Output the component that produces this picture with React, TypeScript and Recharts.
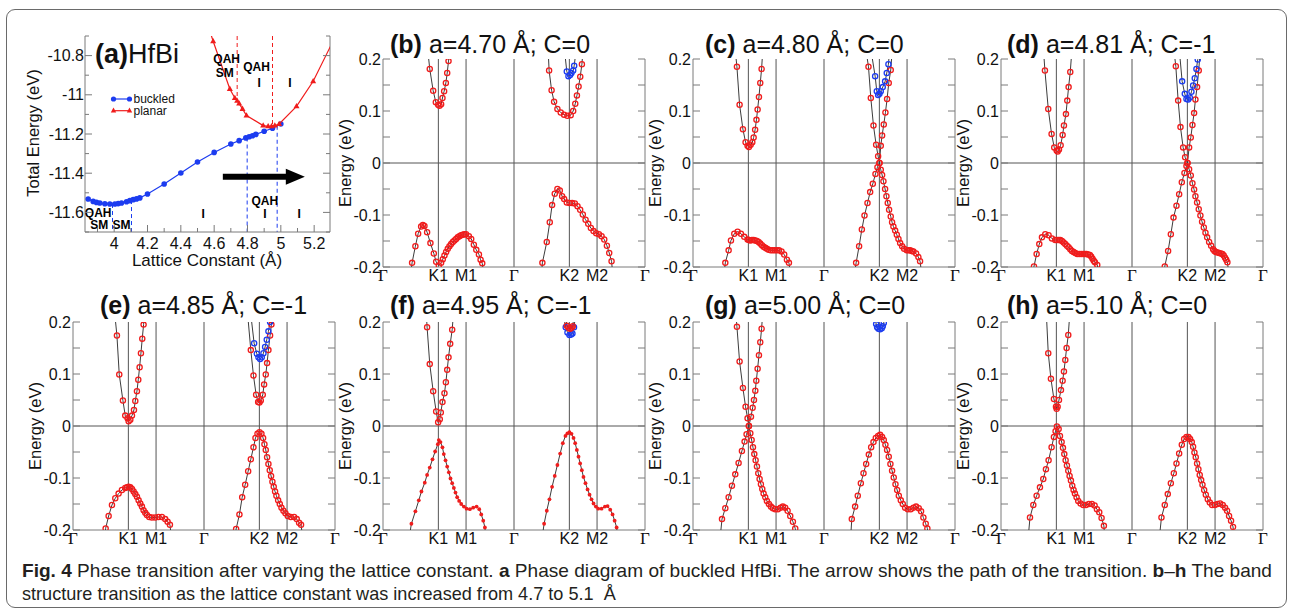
import React from "react";
import { ScatterChart, Scatter, XAxis, YAxis, ReferenceLine, ReferenceDot } from "recharts";

type Pt = [number, number];

const C = {
  frame: "#7a7a7a",
  grid: "#555",
  band: "#3c3c3c",
  red: "#f01c1c",
  blue: "#1c3cf0",
  text: "#111",
  sans: "'Liberation Sans', Arial, Helvetica, sans-serif",
  serif: "'Liberation Serif', 'DejaVu Serif', 'Times New Roman', serif",
  narrow: "'Liberation Sans Narrow', 'Liberation Sans', Arial, sans-serif",
};

// k-path Γ-K1-M1-Γ-K2-M2-Γ, path length in units of 2π/a
const K_PATH = [0, 0.6667, 1, 1.5774, 2.244, 2.5774, 3.1547];
const K_NAMES = ["Γ", "K1", "M1", "Γ", "K2", "M2", "Γ"];
const E_TICKS = [-0.2, -0.15, -0.1, -0.05, 0, 0.05, 0.1, 0.15, 0.2];
const E_LABELS = [-0.2, -0.1, 0, 0.1, 0.2];

// panel (a): phase diagram
const A_X_TICKS = [3.9, 4, 4.1, 4.2, 4.3, 4.4, 4.5, 4.6, 4.7, 4.8, 4.9, 5, 5.1, 5.2];
const A_X_LABELS = [4, 4.2, 4.4, 4.6, 4.8, 5, 5.2];
const A_Y_TICKS = [-11.7, -11.6, -11.5, -11.4, -11.3, -11.2, -11.1, -11, -10.9, -10.8, -10.7];
const A_Y_LABELS = [-11.6, -11.4, -11.2, -11, -10.8];

const A_BUCKLED: Pt[] = [
  [3.844, -11.532], [3.874, -11.544], [3.894, -11.549], [3.914, -11.552], [3.944, -11.556],
  [3.974, -11.557], [4.004, -11.557], [4.024, -11.555], [4.044, -11.552], [4.074, -11.546],
  [4.094, -11.54], [4.114, -11.535], [4.134, -11.531], [4.154, -11.526], [4.2, -11.506],
  [4.3, -11.455], [4.4, -11.399], [4.5, -11.343], [4.6, -11.294], [4.7, -11.251],
  [4.75, -11.234], [4.79, -11.22], [4.81, -11.214], [4.83, -11.209], [4.85, -11.202],
  [4.9, -11.186], [4.95, -11.171], [5.0, -11.149],
];
const A_PLANAR: Pt[] = [
  [4.565, -10.65], [4.594, -10.727], [4.694, -10.97], [4.724, -11.016], [4.738, -11.03],
  [4.75, -11.045], [4.77, -11.072], [4.794, -11.106], [4.894, -11.157], [4.924, -11.161],
  [4.944, -11.161], [4.964, -11.157], [4.99, -11.149], [5.094, -11.059], [5.194, -10.931],
  [5.34, -10.68],
];
// [a, E from, E to] dashed phase boundaries
const A_DASH_RED = [[4.738, -10.7, -11.03], [4.95, -10.7, -11.16]];
const A_DASH_BLUE = [[3.99, -11.557, -11.7], [4.104, -11.537, -11.7], [4.798, -11.218, -11.7], [4.978, -11.158, -11.7]];
const A_NOTES: [number, number, string][] = [
  [4.675, -10.818, "QAH"], [4.664, -10.887, "SM"], [4.854, -10.86, "QAH"],
  [4.87, -10.938, "I"], [5.054, -10.938, "I"],
  [3.904, -11.601, "QAH"], [3.91, -11.665, "SM"], [4.044, -11.665, "SM"],
  [4.534, -11.608, "I"], [4.904, -11.608, "I"], [5.11, -11.608, "I"], [4.904, -11.54, "QAH"],
];
const A_ARROW: Pt[] = [[4.652, -11.418], [5.144, -11.418]];

// (b) a=4.70
const B_K1C: Pt[] = [[0.53, 0.23], [0.563, 0.181], [0.604, 0.139], [0.636, 0.117], [0.664, 0.112], [0.68, 0.11], [0.7, 0.113], [0.716, 0.125], [0.736, 0.138], [0.757, 0.154], [0.773, 0.173], [0.789, 0.196], [0.81, 0.23]];
const B_K1V: Pt[] = [[0.33, -0.22], [0.35, -0.192], [0.39, -0.16], [0.423, -0.136], [0.459, -0.122], [0.48, -0.119], [0.499, -0.121], [0.531, -0.133], [0.571, -0.154], [0.612, -0.174], [0.64, -0.19], [0.672, -0.197], [0.7, -0.192], [0.72, -0.185], [0.74, -0.178], [0.76, -0.171], [0.78, -0.165], [0.8, -0.16], [0.82, -0.156], [0.84, -0.152], [0.86, -0.149], [0.88, -0.146], [0.9, -0.143], [0.92, -0.141], [0.94, -0.139], [0.96, -0.138], [0.98, -0.137], [1.0, -0.137], [1.034, -0.141], [1.062, -0.146], [1.094, -0.157], [1.123, -0.167], [1.155, -0.176], [1.175, -0.186], [1.195, -0.193], [1.22, -0.22]];
const B_K2C: Pt[] = [[1.985, 0.23], [2.0, 0.178], [2.03, 0.14], [2.06, 0.118], [2.1, 0.104], [2.14, 0.097], [2.18, 0.093], [2.22, 0.091], [2.26, 0.092], [2.29, 0.1], [2.315, 0.114], [2.335, 0.13], [2.355, 0.147], [2.375, 0.166], [2.395, 0.19], [2.415, 0.23]];
const B_K2U: Pt[] = [[2.17, 0.24], [2.213, 0.176], [2.233, 0.167], [2.253, 0.169], [2.269, 0.173], [2.29, 0.178], [2.302, 0.187], [2.32, 0.21], [2.34, 0.24]];
const B_K2V: Pt[] = [[1.9, -0.23], [1.919, -0.192], [1.972, -0.152], [2.008, -0.114], [2.036, -0.081], [2.068, -0.059], [2.1, -0.05], [2.129, -0.053], [2.157, -0.064], [2.181, -0.069], [2.213, -0.076], [2.245, -0.077], [2.278, -0.077], [2.31, -0.078], [2.342, -0.083], [2.374, -0.09], [2.406, -0.099], [2.439, -0.109], [2.471, -0.117], [2.503, -0.125], [2.535, -0.131], [2.567, -0.135], [2.6, -0.137], [2.632, -0.141], [2.664, -0.147], [2.696, -0.159], [2.724, -0.173], [2.752, -0.189], [2.77, -0.22]];

// (c) a=4.80
const C_K1C: Pt[] = [[0.5, 0.23], [0.529, 0.185], [0.561, 0.112], [0.601, 0.065], [0.633, 0.04], [0.657, 0.033], [0.673, 0.031], [0.694, 0.035], [0.714, 0.04], [0.73, 0.049], [0.748, 0.064], [0.764, 0.083], [0.778, 0.103], [0.794, 0.127], [0.81, 0.154], [0.826, 0.181], [0.845, 0.23]];
const C_K1V: Pt[] = [[0.37, -0.22], [0.389, -0.192], [0.429, -0.168], [0.457, -0.149], [0.497, -0.136], [0.537, -0.132], [0.577, -0.136], [0.617, -0.142], [0.657, -0.147], [0.673, -0.148], [0.69, -0.149], [0.71, -0.148], [0.73, -0.148], [0.75, -0.149], [0.77, -0.15], [0.79, -0.152], [0.81, -0.155], [0.83, -0.158], [0.85, -0.161], [0.87, -0.163], [0.89, -0.165], [0.91, -0.167], [0.935, -0.168], [0.96, -0.168], [0.985, -0.168], [1.01, -0.168], [1.035, -0.168], [1.066, -0.17], [1.098, -0.176], [1.131, -0.186], [1.155, -0.192], [1.18, -0.22]];
const C_K2A: Pt[] = [[2.08, 0.22], [2.113, 0.185], [2.141, 0.125], [2.173, 0.072], [2.205, 0.035], [2.229, 0.013], [2.245, 0.0], [2.261, -0.013], [2.277, -0.023], [2.293, -0.035], [2.313, -0.05], [2.329, -0.064], [2.345, -0.077], [2.361, -0.09], [2.381, -0.103], [2.397, -0.114], [2.413, -0.122], [2.434, -0.13], [2.454, -0.138], [2.474, -0.146], [2.494, -0.154], [2.518, -0.16], [2.542, -0.165], [2.574, -0.168], [2.594, -0.168], [2.614, -0.168], [2.634, -0.169], [2.654, -0.17], [2.686, -0.174], [2.714, -0.181], [2.734, -0.189], [2.76, -0.22]];
const C_K2B: Pt[] = [[1.94, -0.22], [1.964, -0.192], [2.0, -0.16], [2.033, -0.128], [2.065, -0.101], [2.101, -0.077], [2.133, -0.056], [2.165, -0.04], [2.197, -0.021], [2.221, -0.008], [2.245, 0.0], [2.261, 0.033], [2.277, 0.053], [2.297, 0.074], [2.317, 0.097], [2.337, 0.123], [2.357, 0.154], [2.381, 0.179], [2.4, 0.22]];
const C_K2U: Pt[] = [[2.12, 0.24], [2.193, 0.167], [2.213, 0.138], [2.229, 0.131], [2.245, 0.133], [2.261, 0.138], [2.285, 0.146], [2.313, 0.157], [2.333, 0.173], [2.353, 0.19], [2.37, 0.22]];

// (d) a=4.81
const D_K1C: Pt[] = [[0.51, 0.22], [0.529, 0.178], [0.569, 0.104], [0.609, 0.056], [0.641, 0.03], [0.67, 0.024], [0.682, 0.022], [0.698, 0.026], [0.718, 0.034], [0.742, 0.054], [0.758, 0.072], [0.782, 0.094], [0.798, 0.12], [0.814, 0.146], [0.834, 0.175], [0.855, 0.22]];
const D_K1V: Pt[] = [[0.38, -0.22], [0.397, -0.199], [0.429, -0.175], [0.461, -0.156], [0.493, -0.143], [0.533, -0.137], [0.573, -0.139], [0.613, -0.145], [0.653, -0.148], [0.674, -0.148], [0.694, -0.148], [0.714, -0.148], [0.734, -0.15], [0.754, -0.153], [0.774, -0.156], [0.794, -0.159], [0.814, -0.162], [0.834, -0.166], [0.854, -0.169], [0.874, -0.171], [0.894, -0.173], [0.918, -0.175], [0.942, -0.175], [0.966, -0.175], [0.99, -0.175], [1.01, -0.175], [1.03, -0.175], [1.05, -0.176], [1.07, -0.177], [1.086, -0.18], [1.102, -0.184], [1.117, -0.188], [1.131, -0.191], [1.159, -0.196], [1.18, -0.22]];
const D_K2A: Pt[] = [[2.08, 0.22], [2.105, 0.186], [2.133, 0.12], [2.161, 0.069], [2.193, 0.03], [2.217, 0.011], [2.245, 0.0], [2.265, -0.012], [2.285, -0.024], [2.305, -0.039], [2.325, -0.051], [2.341, -0.064], [2.361, -0.076], [2.381, -0.089], [2.401, -0.101], [2.421, -0.113], [2.442, -0.124], [2.462, -0.134], [2.482, -0.143], [2.506, -0.152], [2.53, -0.159], [2.554, -0.166], [2.57, -0.169], [2.586, -0.171], [2.606, -0.172], [2.626, -0.173], [2.646, -0.174], [2.666, -0.175], [2.682, -0.178], [2.698, -0.182], [2.712, -0.186], [2.726, -0.191], [2.75, -0.22]];
const D_K2B: Pt[] = [[1.95, -0.22], [1.972, -0.199], [2.012, -0.169], [2.045, -0.137], [2.077, -0.105], [2.113, -0.082], [2.145, -0.06], [2.177, -0.037], [2.209, -0.019], [2.233, -0.006], [2.245, 0.0], [2.265, 0.03], [2.285, 0.049], [2.305, 0.073], [2.325, 0.096], [2.341, 0.122], [2.361, 0.146], [2.381, 0.178], [2.4, 0.22]];
const D_K2U: Pt[] = [[2.14, 0.23], [2.181, 0.157], [2.213, 0.133], [2.233, 0.123], [2.253, 0.122], [2.273, 0.126], [2.293, 0.137], [2.313, 0.149], [2.333, 0.163], [2.353, 0.181], [2.369, 0.199], [2.38, 0.22]];

// (e) a=4.85
const E_K1C: Pt[] = [[0.5, 0.22], [0.529, 0.174], [0.557, 0.099], [0.601, 0.049], [0.629, 0.02], [0.657, 0.015], [0.67, 0.009], [0.69, 0.012], [0.71, 0.02], [0.734, 0.031], [0.75, 0.048], [0.77, 0.067], [0.786, 0.089], [0.802, 0.113], [0.818, 0.14], [0.834, 0.168], [0.85, 0.195], [0.86, 0.22]];
const E_K1V: Pt[] = [[0.38, -0.22], [0.393, -0.197], [0.429, -0.173], [0.469, -0.152], [0.509, -0.139], [0.549, -0.13], [0.589, -0.123], [0.629, -0.119], [0.65, -0.118], [0.67, -0.117], [0.69, -0.118], [0.71, -0.121], [0.73, -0.126], [0.75, -0.131], [0.77, -0.136], [0.79, -0.143], [0.81, -0.149], [0.83, -0.155], [0.85, -0.162], [0.87, -0.167], [0.89, -0.171], [0.918, -0.175], [0.95, -0.176], [0.99, -0.176], [1.03, -0.175], [1.07, -0.175], [1.11, -0.179], [1.139, -0.184], [1.167, -0.19], [1.19, -0.22]];
const E_K2C: Pt[] = [[2.1, 0.22], [2.141, 0.146], [2.173, 0.097], [2.205, 0.06], [2.229, 0.046], [2.245, 0.045], [2.261, 0.049], [2.285, 0.06], [2.301, 0.08], [2.321, 0.099], [2.337, 0.121], [2.353, 0.146], [2.373, 0.174], [2.389, 0.195], [2.4, 0.22]];
const E_K2U: Pt[] = [[2.13, 0.23], [2.181, 0.159], [2.213, 0.139], [2.233, 0.132], [2.253, 0.129], [2.273, 0.132], [2.293, 0.14], [2.313, 0.152], [2.333, 0.166], [2.353, 0.182], [2.373, 0.2], [2.38, 0.22]];
const E_K2V: Pt[] = [[1.95, -0.22], [1.964, -0.198], [2.004, -0.17], [2.037, -0.137], [2.073, -0.113], [2.109, -0.087], [2.141, -0.064], [2.173, -0.041], [2.197, -0.023], [2.221, -0.015], [2.245, -0.012], [2.269, -0.015], [2.289, -0.023], [2.305, -0.035], [2.321, -0.046], [2.337, -0.06], [2.353, -0.073], [2.369, -0.085], [2.385, -0.096], [2.401, -0.107], [2.417, -0.117], [2.433, -0.126], [2.449, -0.134], [2.47, -0.143], [2.49, -0.15], [2.51, -0.157], [2.534, -0.163], [2.558, -0.168], [2.586, -0.173], [2.622, -0.175], [2.662, -0.175], [2.694, -0.179], [2.722, -0.186], [2.746, -0.19], [2.77, -0.22]];

// (f) a=4.95
const F_K1C: Pt[] = [[0.52, 0.22], [0.531, 0.19], [0.563, 0.119], [0.604, 0.067], [0.64, 0.028], [0.664, 0.007], [0.684, 0.013], [0.696, 0.026], [0.716, 0.046], [0.74, 0.063], [0.757, 0.084], [0.773, 0.108], [0.789, 0.132], [0.809, 0.158], [0.833, 0.185], [0.85, 0.22]];
const F_K1V: Pt[] = [[0.32, -0.21], [0.342, -0.188], [0.39, -0.164], [0.431, -0.143], [0.463, -0.126], [0.503, -0.109], [0.531, -0.094], [0.563, -0.08], [0.596, -0.064], [0.628, -0.049], [0.66, -0.035], [0.672, -0.027], [0.692, -0.031], [0.716, -0.041], [0.732, -0.054], [0.753, -0.066], [0.773, -0.078], [0.793, -0.089], [0.813, -0.101], [0.833, -0.11], [0.853, -0.119], [0.873, -0.128], [0.893, -0.137], [0.917, -0.144], [0.942, -0.15], [0.974, -0.155], [1.006, -0.159], [1.046, -0.16], [1.086, -0.157], [1.127, -0.155], [1.159, -0.16], [1.183, -0.17], [1.207, -0.182], [1.227, -0.195], [1.24, -0.22]];
const F_K2V: Pt[] = [[1.92, -0.21], [1.94, -0.188], [1.972, -0.163], [2.004, -0.141], [2.036, -0.117], [2.068, -0.096], [2.1, -0.075], [2.133, -0.053], [2.165, -0.033], [2.197, -0.019], [2.221, -0.014], [2.245, -0.012], [2.27, -0.015], [2.294, -0.023], [2.314, -0.033], [2.334, -0.046], [2.354, -0.059], [2.374, -0.072], [2.394, -0.085], [2.414, -0.098], [2.438, -0.11], [2.463, -0.122], [2.487, -0.132], [2.511, -0.141], [2.535, -0.149], [2.563, -0.155], [2.591, -0.159], [2.632, -0.159], [2.672, -0.155], [2.704, -0.154], [2.736, -0.161], [2.764, -0.17], [2.789, -0.182], [2.813, -0.195], [2.83, -0.22]];
const F_K2U: Pt[] = [[2.17, 0.215], [2.2, 0.19], [2.221, 0.18], [2.245, 0.175], [2.265, 0.176], [2.281, 0.178], [2.3, 0.19], [2.32, 0.215]];
const F_K2R: Pt[] = [[2.2, 0.215], [2.213, 0.193], [2.233, 0.189], [2.253, 0.187], [2.27, 0.189], [2.285, 0.192], [2.3, 0.215]];

// (g) a=5.00
const G_K1A: Pt[] = [[0.515, 0.22], [0.529, 0.191], [0.561, 0.124], [0.601, 0.073], [0.633, 0.037], [0.657, 0.015], [0.673, 0.0], [0.69, -0.014], [0.706, -0.027], [0.722, -0.041], [0.738, -0.054], [0.754, -0.066], [0.77, -0.078], [0.786, -0.091], [0.802, -0.102], [0.818, -0.112], [0.834, -0.121], [0.85, -0.13], [0.87, -0.137], [0.89, -0.144], [0.914, -0.15], [0.938, -0.155], [0.962, -0.158], [0.99, -0.16], [1.022, -0.16], [1.054, -0.157], [1.082, -0.155], [1.11, -0.157], [1.139, -0.163], [1.171, -0.173], [1.203, -0.184], [1.231, -0.197], [1.245, -0.22]];
const G_K1B: Pt[] = [[0.33, -0.21], [0.349, -0.179], [0.389, -0.158], [0.429, -0.137], [0.469, -0.115], [0.509, -0.093], [0.549, -0.071], [0.589, -0.048], [0.621, -0.03], [0.645, -0.016], [0.673, 0.0], [0.698, 0.018], [0.718, 0.035], [0.734, 0.05], [0.75, 0.068], [0.762, 0.087], [0.778, 0.11], [0.794, 0.136], [0.81, 0.161], [0.826, 0.187], [0.84, 0.22]];
const G_K2V: Pt[] = [[1.9, -0.21], [1.912, -0.179], [1.952, -0.155], [1.984, -0.134], [2.021, -0.11], [2.053, -0.091], [2.085, -0.073], [2.117, -0.055], [2.145, -0.041], [2.173, -0.031], [2.201, -0.023], [2.229, -0.019], [2.253, -0.017], [2.277, -0.021], [2.297, -0.027], [2.317, -0.036], [2.337, -0.046], [2.357, -0.059], [2.377, -0.073], [2.397, -0.086], [2.417, -0.099], [2.438, -0.112], [2.458, -0.123], [2.478, -0.134], [2.502, -0.143], [2.526, -0.15], [2.554, -0.157], [2.586, -0.16], [2.622, -0.16], [2.654, -0.157], [2.686, -0.155], [2.718, -0.158], [2.746, -0.164], [2.774, -0.176], [2.802, -0.188], [2.822, -0.197], [2.835, -0.22]];
const G_K2U: Pt[] = [[2.19, 0.22], [2.205, 0.196], [2.217, 0.19], [2.233, 0.187], [2.253, 0.186], [2.273, 0.188], [2.285, 0.192], [2.297, 0.198], [2.31, 0.22]];

// (h) a=5.10
const H_K1C: Pt[] = [[0.545, 0.22], [0.569, 0.14], [0.601, 0.091], [0.637, 0.052], [0.662, 0.037], [0.67, 0.033], [0.682, 0.037], [0.698, 0.05], [0.722, 0.069], [0.742, 0.087], [0.758, 0.105], [0.774, 0.127], [0.79, 0.15], [0.81, 0.175], [0.83, 0.22]];
const H_K1V: Pt[] = [[0.33, -0.21], [0.349, -0.176], [0.389, -0.152], [0.429, -0.134], [0.469, -0.118], [0.509, -0.102], [0.541, -0.083], [0.573, -0.066], [0.609, -0.041], [0.637, -0.021], [0.657, -0.01], [0.673, -0.001], [0.694, -0.006], [0.71, -0.019], [0.73, -0.031], [0.746, -0.042], [0.762, -0.054], [0.778, -0.066], [0.794, -0.076], [0.81, -0.086], [0.826, -0.096], [0.842, -0.105], [0.858, -0.115], [0.874, -0.123], [0.89, -0.13], [0.91, -0.137], [0.93, -0.144], [0.958, -0.149], [0.99, -0.152], [1.022, -0.152], [1.058, -0.15], [1.094, -0.15], [1.127, -0.153], [1.155, -0.16], [1.183, -0.166], [1.211, -0.177], [1.239, -0.192], [1.25, -0.22]];
const H_K2V: Pt[] = [[1.91, -0.21], [1.932, -0.176], [1.972, -0.152], [2.008, -0.131], [2.045, -0.11], [2.081, -0.091], [2.113, -0.072], [2.145, -0.053], [2.177, -0.036], [2.205, -0.025], [2.233, -0.021], [2.257, -0.021], [2.277, -0.025], [2.297, -0.031], [2.313, -0.04], [2.329, -0.051], [2.345, -0.06], [2.361, -0.072], [2.377, -0.083], [2.393, -0.094], [2.41, -0.104], [2.426, -0.113], [2.446, -0.123], [2.466, -0.132], [2.49, -0.141], [2.514, -0.147], [2.542, -0.152], [2.574, -0.152], [2.606, -0.15], [2.638, -0.149], [2.67, -0.152], [2.698, -0.157], [2.722, -0.163], [2.746, -0.173], [2.77, -0.182], [2.794, -0.194], [2.81, -0.22]];

type Kind = "red" | "blue" | "dot";
type Band = { pts: Pt[]; kind: Kind };

const PANELS: { id: string; title: string; left: number; top: number; tx: number; bands: Band[] }[] = [
  { id: "b", title: "a=4.70 Å; C=0", left: 383, top: 59, tx: 390, bands: [
    { pts: B_K1C, kind: "red" }, { pts: B_K1V, kind: "red" }, { pts: B_K2C, kind: "red" },
    { pts: B_K2U, kind: "blue" }, { pts: B_K2V, kind: "red" }] },
  { id: "c", title: "a=4.80 Å; C=0", left: 693, top: 59, tx: 705, bands: [
    { pts: C_K1C, kind: "red" }, { pts: C_K1V, kind: "red" }, { pts: C_K2A, kind: "red" },
    { pts: C_K2B, kind: "red" }, { pts: C_K2U, kind: "blue" }] },
  { id: "d", title: "a=4.81 Å; C=-1", left: 1001, top: 59, tx: 1007, bands: [
    { pts: D_K1C, kind: "red" }, { pts: D_K1V, kind: "red" }, { pts: D_K2A, kind: "red" },
    { pts: D_K2B, kind: "red" }, { pts: D_K2U, kind: "blue" }] },
  { id: "e", title: "a=4.85 Å; C=-1", left: 73, top: 322, tx: 100, bands: [
    { pts: E_K1C, kind: "red" }, { pts: E_K1V, kind: "red" }, { pts: E_K2C, kind: "red" },
    { pts: E_K2U, kind: "blue" }, { pts: E_K2V, kind: "red" }] },
  { id: "f", title: "a=4.95 Å; C=-1", left: 383, top: 322, tx: 390, bands: [
    { pts: F_K1C, kind: "red" }, { pts: F_K1V, kind: "dot" }, { pts: F_K2V, kind: "dot" },
    { pts: F_K2U, kind: "blue" }, { pts: F_K2R, kind: "red" }] },
  { id: "g", title: "a=5.00 Å; C=0", left: 693, top: 322, tx: 705, bands: [
    { pts: G_K1A, kind: "red" }, { pts: G_K1B, kind: "red" }, { pts: G_K2V, kind: "red" },
    { pts: G_K2U, kind: "blue" }] },
  { id: "h", title: "a=5.10 Å; C=0", left: 1001, top: 322, tx: 1007, bands: [
    { pts: H_K1C, kind: "red" }, { pts: H_K1V, kind: "red" }, { pts: H_K2V, kind: "red" }] },
];

const CAPTION_1: [string, boolean][] = [
  ["Fig. 4", true], [" Phase transition after varying the lattice constant. ", false], ["a", true],
  [" Phase diagram of buckled HfBi. The arrow shows the path of the transition. ", false],
  ["b", true], ["–", false], ["h", true], [" The band", false],
];
const CAPTION_2 = "structure transition as the lattice constant was increased from 4.7 to 5.1  Å";

const PW = 262, PH = 208, ML = 50, MT = 12, MB = 24, MR = 12;
const K_END = K_PATH[K_PATH.length - 1];

const rows = (pts: Pt[]) => pts.map(([k, e]) => ({ k, e }));
const has = (list: number[], v: number) => list.some((u) => Math.abs(u - v) < 1e-6);

function Empty() {
  return <g />;
}
function RingRed(p: any) {
  return <circle cx={p.cx} cy={p.cy} r={2.6} fill="none" stroke={C.red} strokeWidth={1.3} />;
}
function RingBlue(p: any) {
  return <circle cx={p.cx} cy={p.cy} r={2.6} fill="none" stroke={C.blue} strokeWidth={1.3} />;
}
function DotRed(p: any) {
  return <circle cx={p.cx} cy={p.cy} r={1.9} fill={C.red} />;
}
function BlueBall(p: any) {
  return <circle cx={p.cx} cy={p.cy} r={2.8} fill={C.blue} />;
}
function RedTri(p: any) {
  const { cx, cy } = p;
  return <polygon points={`${cx},${cy - 3.3} ${cx - 3},${cy + 2} ${cx + 3},${cy + 2}`} fill={C.red} />;
}

function KTick(p: any) {
  const name = K_NAMES[K_PATH.indexOf(p.payload.value)];
  const greek = name === "Γ";
  return (
    <text x={p.x} y={p.y + 8} textAnchor="middle" dominantBaseline="central"
      fontFamily={greek ? C.serif : C.sans} fontSize={greek ? 17 : 16} fill={C.text}>
      {name}
    </text>
  );
}
function ETickL(p: any) {
  const v = p.payload.value;
  return (
    <g>
      <line x1={p.x} x2={p.x + 7} y1={p.y} y2={p.y} stroke={C.frame} />
      {has(E_LABELS, v) && (
        <text x={p.x - 2} y={p.y} textAnchor="end" dominantBaseline="central"
          fontFamily={C.sans} fontSize={16} fill={C.text}>{v === 0 ? "0" : String(v)}</text>
      )}
    </g>
  );
}
function ETickR(p: any) {
  return <line x1={p.x} x2={p.x - 7} y1={p.y} y2={p.y} stroke={C.frame} />;
}

function BandPanel({ left, top, bands }: { left: number; top: number; bands: Band[] }) {
  const shapeFor = (k: Kind) => (k === "blue" ? RingBlue : k === "dot" ? DotRed : RingRed);
  return (
    <div style={{ position: "absolute", left: left - ML, top: top - MT }}>
      <ScatterChart width={ML + PW + 1 + MR} height={MT + PH + MB}
        margin={{ top: MT, right: MR, bottom: 0, left: 0 }}>
        <XAxis xAxisId="b" type="number" dataKey="k" domain={[0, K_END]} ticks={K_PATH} interval={0}
          allowDataOverflow height={MB} tickSize={0} tickMargin={0} tickLine={false}
          axisLine={{ stroke: C.frame }} tick={KTick} />
        <XAxis xAxisId="t" orientation="top" type="number" domain={[0, K_END]} allowDataOverflow
          height={0} tick={false} tickLine={false} axisLine={{ stroke: C.frame }} />
        <YAxis yAxisId="l" type="number" dataKey="e" domain={[-0.2, 0.2]} ticks={E_TICKS} interval={0}
          allowDataOverflow width={ML} tickSize={0} tickMargin={0} tickLine={false}
          axisLine={{ stroke: C.frame }} tick={ETickL} />
        <YAxis yAxisId="r" orientation="right" type="number" domain={[-0.2, 0.2]} ticks={E_TICKS}
          interval={0} allowDataOverflow width={1} tickSize={0} tickMargin={0} tickLine={false}
          axisLine={{ stroke: C.frame }} tick={ETickR} />
        {K_PATH.slice(1, -1).map((k) => (
          <ReferenceLine key={k} xAxisId="b" yAxisId="l" x={k} stroke={C.grid} />
        ))}
        <ReferenceLine xAxisId="b" yAxisId="l" y={0} stroke={C.grid} />
        {bands.map((b, i) => (
          <Scatter key={"l" + i} xAxisId="b" yAxisId="l" data={rows(b.pts)}
            line={{ stroke: C.band, strokeWidth: 1 }} shape={Empty} isAnimationActive={false} />
        ))}
        {bands.map((b, i) => (
          <Scatter key={"m" + i} xAxisId="b" yAxisId="l"
            data={rows(b.pts).filter((r) => Math.abs(r.e) <= 0.2005)}
            shape={shapeFor(b.kind)} isAnimationActive={false} />
        ))}
      </ScatterChart>
    </div>
  );
}

// panel (a) geometry
const AL = 85, AT = 36, AW = 245, AH = 196, AML = 62, AMB = 24, AMT = 10;

function AXTick(p: any) {
  const v = p.payload.value;
  const major = has(A_X_LABELS, v);
  return (
    <g>
      <line x1={p.x} x2={p.x} y1={p.y} y2={p.y - (major ? 7 : 4)} stroke={C.frame} />
      {major && (
        <text x={p.x} y={p.y + 11} textAnchor="middle" dominantBaseline="central"
          fontFamily={C.sans} fontSize={16} fill={C.text}>{String(v)}</text>
      )}
    </g>
  );
}
function AXTickTop(p: any) {
  const major = has(A_X_LABELS, p.payload.value);
  return <line x1={p.x} x2={p.x} y1={p.y} y2={p.y + (major ? 7 : 4)} stroke={C.frame} />;
}
function AYTick(p: any) {
  const v = p.payload.value;
  const major = has(A_Y_LABELS, v);
  return (
    <g>
      <line x1={p.x} x2={p.x + (major ? 7 : 4)} y1={p.y} y2={p.y} stroke={C.frame} />
      {major && (
        <text x={p.x - 1} y={p.y} textAnchor="end" dominantBaseline="central"
          fontFamily={C.sans} fontSize={16} fill={C.text}>{String(v)}</text>
      )}
    </g>
  );
}
function AYTickR(p: any) {
  const major = has(A_Y_LABELS, p.payload.value);
  return <line x1={p.x} x2={p.x - (major ? 7 : 4)} y1={p.y} y2={p.y} stroke={C.frame} />;
}
function Arrow(p: any) {
  const { x1, y1, x2, y2 } = p;
  return (
    <g>
      <line x1={x1} y1={y1} x2={x2 - 16} y2={y2} stroke="#000" strokeWidth={6} />
      <polygon points={`${x2},${y2} ${x2 - 19},${y2 - 8} ${x2 - 19},${y2 + 8}`} fill="#000" />
    </g>
  );
}

function PhasePanel() {
  return (
    <div style={{ position: "absolute", left: AL - AML, top: AT - AMT }}>
      <ScatterChart width={AML + AW + 1 + 4} height={AMT + AH + AMB} margin={{ top: AMT, right: 4, bottom: 0, left: 0 }}>
        <XAxis xAxisId="b" type="number" dataKey="k" domain={[3.825, 5.295]} ticks={A_X_TICKS}
          interval={0} allowDataOverflow height={AMB} tickSize={0} tickMargin={0} tickLine={false}
          axisLine={{ stroke: C.frame }} tick={AXTick} />
        <XAxis xAxisId="t" orientation="top" type="number" domain={[3.825, 5.295]} ticks={A_X_TICKS}
          interval={0} allowDataOverflow height={0} tickSize={0} tickMargin={0} tickLine={false}
          axisLine={{ stroke: C.frame }} tick={AXTickTop} />
        <YAxis yAxisId="l" type="number" dataKey="e" domain={[-11.7, -10.7]} ticks={A_Y_TICKS}
          interval={0} allowDataOverflow width={AML} tickSize={0} tickMargin={0} tickLine={false}
          axisLine={{ stroke: C.frame }} tick={AYTick} />
        <YAxis yAxisId="r" orientation="right" type="number" domain={[-11.7, -10.7]} ticks={A_Y_TICKS}
          interval={0} allowDataOverflow width={1} tickSize={0} tickMargin={0} tickLine={false}
          axisLine={{ stroke: C.frame }} tick={AYTickR} />
        {A_DASH_RED.map(([a, e1, e2]) => (
          <ReferenceLine key={"r" + a} xAxisId="b" yAxisId="l" ifOverflow="visible"
            segment={[{ x: a, y: e1 }, { x: a, y: e2 }]} stroke={C.red} strokeDasharray="4 3" />
        ))}
        {A_DASH_BLUE.map(([a, e1, e2]) => (
          <ReferenceLine key={"b" + a} xAxisId="b" yAxisId="l" ifOverflow="visible"
            segment={[{ x: a, y: e1 }, { x: a, y: e2 }]} stroke={C.blue} strokeDasharray="4 3" />
        ))}
        <Scatter xAxisId="b" yAxisId="l" data={rows(A_BUCKLED)} line={{ stroke: C.blue, strokeWidth: 1.2 }}
          shape={BlueBall} isAnimationActive={false} />
        <Scatter xAxisId="b" yAxisId="l" data={rows(A_PLANAR)} line={{ stroke: C.red, strokeWidth: 1.2 }}
          shape={Empty} isAnimationActive={false} />
        <Scatter xAxisId="b" yAxisId="l"
          data={rows(A_PLANAR).filter((r) => r.e <= -10.7 && r.k <= 5.295)}
          shape={RedTri} isAnimationActive={false} />
        <ReferenceLine xAxisId="b" yAxisId="l" ifOverflow="visible"
          segment={[{ x: A_ARROW[0][0], y: A_ARROW[0][1] }, { x: A_ARROW[1][0], y: A_ARROW[1][1] }]}
          shape={Arrow} />
        {A_NOTES.map(([a, e, s], i) => (
          <ReferenceDot key={i} xAxisId="b" yAxisId="l" x={a} y={e} r={1} ifOverflow="visible"
            shape={(p: any) => (
              <text x={p.cx} y={p.cy} textAnchor="middle" dominantBaseline="central"
                fontFamily={C.sans} fontWeight="bold" fontSize={12} fill="#000">{s}</text>
            )} />
        ))}
      </ScatterChart>
    </div>
  );
}

// both caption lines share one horizontal scale, fixed by the first line's width
function captionLengths(): [number, number] {
  const LINE1 = 1250;
  try {
    const ctx = document.createElement("canvas").getContext("2d");
    if (!ctx) return [LINE1, 600];
    let w1 = 0;
    for (const [s, b] of CAPTION_1) {
      ctx.font = `${b ? "bold " : ""}19px ${C.narrow}`;
      w1 += ctx.measureText(s).width;
    }
    ctx.font = `19px ${C.narrow}`;
    const w2 = ctx.measureText(CAPTION_2).width;
    return [LINE1, (0.95 * LINE1 * w2) / w1];
  } catch {
    return [LINE1, 600];
  }
}

function Overlay() {
  const t = { fontFamily: C.sans, fill: C.text };
  const [len1, len2] = captionLengths();
  return (
    <svg width={1292} height={615} style={{ position: "absolute", left: 0, top: 0, pointerEvents: "none" }}>
      {PANELS.map((p) => (
        <g key={p.id}>
          <text x={p.tx} y={p.top < 100 ? 52.5 : 314} fontSize={25} {...t}>
            <tspan fontWeight="bold">({p.id})</tspan>
            <tspan> {p.title}</tspan>
          </text>
          <text transform={`translate(${p.left - 38.5},${p.top + PH / 2}) rotate(-90)`} textAnchor="middle"
            dominantBaseline="central" fontSize={16.5} {...t}>Energy (eV)</text>
        </g>
      ))}
      <text x={95} y={63} fontSize={27} {...t}>
        <tspan fontWeight="bold">(a)</tspan>
        <tspan>HfBi</tspan>
      </text>
      <text transform="translate(33,133) rotate(-90)" textAnchor="middle" dominantBaseline="central"
        fontSize={16.5} {...t}>Total Energy (eV)</text>
      <text x={207} y={260} textAnchor="middle" dominantBaseline="central" fontSize={17} {...t}>
        Lattice Constant (Å)
      </text>
      <g>
        <line x1={112} x2={131} y1={99} y2={99} stroke={C.blue} strokeWidth={1.2} />
        <circle cx={113.5} cy={99} r={2.6} fill={C.blue} />
        <circle cx={129.5} cy={99} r={2.6} fill={C.blue} />
        <text x={133.5} y={99} dominantBaseline="central" fontSize={12} {...t}>buckled</text>
        <line x1={112} x2={131} y1={110.7} y2={110.7} stroke={C.red} strokeWidth={1.2} />
        <polygon points="113.5,107.6 110.8,112.5 116.2,112.5" fill={C.red} />
        <polygon points="129.5,107.6 126.8,112.5 132.2,112.5" fill={C.red} />
        <text x={133.5} y={110.7} dominantBaseline="central" fontSize={12} {...t}>planar</text>
      </g>
      <text x={22} y={577} fontSize={19} fontFamily={C.narrow} fill="#231f20" textLength={len1}
        lengthAdjust="spacingAndGlyphs" style={{ whiteSpace: "pre" }}>
        {CAPTION_1.map(([s, b], i) => (
          <tspan key={i} fontWeight={b ? "bold" : "normal"}>{s}</tspan>
        ))}
      </text>
      <text x={22} y={600} fontSize={19} fontFamily={C.narrow} fill="#231f20" textLength={len2}
        lengthAdjust="spacingAndGlyphs" style={{ whiteSpace: "pre" }}>
        {CAPTION_2}
      </text>
    </svg>
  );
}

export default function App() {
  return (
    <div style={{ position: "absolute", left: 0, top: 0, width: 1292, height: 615, background: "#fff", overflow: "hidden" }}>
      <div style={{ position: "absolute", left: 6, top: 9, width: 1281, height: 599, border: "1.5px solid #6a6a6a",
        borderRadius: 9, boxSizing: "border-box" }} />
      <PhasePanel />
      {PANELS.map((p) => (
        <BandPanel key={p.id} left={p.left} top={p.top} bands={p.bands} />
      ))}
      <Overlay />
    </div>
  );
}
